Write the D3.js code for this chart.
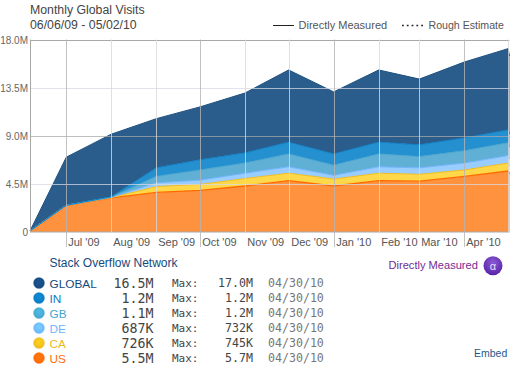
<!DOCTYPE html>
<html><head><meta charset="utf-8">
<script src="https://cdn.jsdelivr.net/npm/d3@7"></script>
<style>html,body{margin:0;padding:0;background:#fff}svg{display:block}</style>
</head><body><svg id="c" width="518" height="368"></svg>
<script>
const dates = ["2009-06-06","2009-07-01","2009-08-01","2009-09-01","2009-10-01","2009-11-01","2009-12-01","2010-01-01","2010-02-01","2010-03-01","2010-04-01","2010-05-01","2010-05-02"];
const usValues     = [0.1,2.5,3.2,3.7,3.9,4.3,4.8,4.3,4.8,4.75,5.2,5.7,5.45];
const caValues     = [0,0,0.02,0.55,0.55,0.7,0.7,0.65,0.7,0.65,0.6,0.745,0.726];
const deValues     = [0,0,0.02,0.35,0.4,0.5,0.6,0.35,0.6,0.6,0.65,0.70,0.687];
const gbValues     = [0,0,0.03,0.6,0.95,0.95,1.2,0.95,1.2,1.05,1.15,1.2,1.1];
const inValues     = [0,0,0.03,0.8,0.95,0.95,1.1,1.05,1.1,1.1,1.2,1.2,1.2];
const globalValues = [0,4.5,5.85,4.6,4.95,5.6,6.75,5.8,6.75,6.15,7.1,7.6,7.3];
const seriesKeys = ["US","CA","DE","GB","IN","GLOBAL"];
const fills   = {US:"#ff923e",CA:"#ffd84a",DE:"#99ccff",GB:"#60b0d6",IN:"#2490cf",GLOBAL:"#2a5d8b"};
const strokes = {US:"#ff6a00",CA:"#f0be20",DE:"#70b4fb",GB:"#4aa5cf",IN:"#0f80c6",GLOBAL:"#1d4f80"};
const yTicks = [0,4.5,9,13.5,18];
const yTickLabels = ["0","4.5M","9.0M","13.5M","18.0M"];
const monthDates = ["2009-07-01","2009-08-01","2009-09-01","2009-10-01","2009-11-01","2009-12-01","2010-01-01","2010-02-01","2010-03-01","2010-04-01","2010-05-01"];
const monthLabels = ["Jul '09","Aug '09","Sep '09","Oct '09","Nov '09","Dec '09","Jan '10","Feb '10","Mar '10","Apr '10",""];
const legendNames = ["GLOBAL","IN","GB","DE","CA","US"];
const legendColors = ["#174a80","#0c7cc0","#44a6cc","#6cb6ff","#eeb91c","#ff6a0a"];
const legendTextColors = ["#144a7c","#0c7cc0","#44a6cc","#6cb6ff","#eeb91c","#ff6a0a"];
const legendCurrent = ["16.5M","1.2M","1.1M","687K","726K","5.5M"];
const legendMax = ["17.0M","1.2M","1.2M","732K","745K","5.7M"];
const legendDate = ["04/30/10","04/30/10","04/30/10","04/30/10","04/30/10","04/30/10"];

const sans = "'Liberation Sans',Arial,sans-serif", mono = "'DejaVu Sans Mono',monospace";
const parse = d3.utcParse("%Y-%m-%d");
const svg = d3.select("#c");
const x = d3.scaleUtc().domain([parse(dates[0]), parse(dates[dates.length-1])]).range([30,509.5]);
const y = d3.scaleLinear().domain([0,18]).range([232,39.5]);
const vals = {US:usValues,CA:caValues,DE:deValues,GB:gbValues,IN:inValues,GLOBAL:globalValues};
const rows = dates.map((d,i)=>{const r={date:parse(d)};seriesKeys.forEach(k=>r[k]=vals[k][i]);return r;});
const stacked = d3.stack().keys(seriesKeys)(rows);

// defs
const defs = svg.append("defs");
legendColors.forEach((c,i)=>{
  const g=defs.append("radialGradient").attr("id","dot"+i).attr("cx","50%").attr("cy","40%").attr("r","60%");
  g.append("stop").attr("offset","0%").attr("stop-color",d3.color(c).brighter(0.35));
  g.append("stop").attr("offset","100%").attr("stop-color",c);
});
const ag=defs.append("radialGradient").attr("id","alpha").attr("cx","50%").attr("cy","35%").attr("r","65%");
ag.append("stop").attr("offset","0%").attr("stop-color","#8a5cd6");
ag.append("stop").attr("offset","100%").attr("stop-color","#5a22a8");

// areas
const area=d3.area().x(d=>x(d.data.date)).y0(d=>y(d[0])).y1(d=>y(d[1]));
const line=d3.line().x(d=>x(d.data.date)).y(d=>y(d[1]));
svg.append("g").selectAll("path").data(stacked).join("path")
  .attr("d",area).attr("fill",d=>fills[d.key]);
svg.append("g").selectAll("path").data(stacked).join("path")
  .attr("d",line).attr("fill","none").attr("stroke",d=>strokes[d.key]).attr("stroke-width",d=>d.key==="US"?1.3:1);

// grid
const grid=svg.append("g");
yTicks.forEach((t,i)=>{
  const yp=Math.round(y(t))+.5-(t===0?0.5:0);
  grid.append("line").attr("x1",30).attr("x2",509.5).attr("y1",yp).attr("y2",yp)
   .attr("stroke",(t===9||t===18||t===0)?"#a8a8a8":"#d8d8e4").attr("stroke-opacity",t===18||t===0?1:0.75);
});
monthDates.forEach((d,i)=>{
  const xp=Math.round(x(parse(d)))+.5;
  const major=(parse(d).getUTCMonth()%3===0);
  grid.append("line").attr("x1",xp).attr("x2",xp).attr("y1",39.5).attr("y2",major?247:232)
    .attr("stroke",major?"#b4b4b4":"#d8d8d8").attr("stroke-opacity",0.8);
  if(i===monthDates.length-1) return;
  svg.append("text").attr("x",xp+1.7).attr("y",245.5).attr("font-family",sans).attr("font-size",11)
    .attr("fill","#555").text(monthLabels[i]);
});
grid.append("line").attr("x1",30.5).attr("x2",30.5).attr("y1",39.5).attr("y2",232).attr("stroke","#a8a8a8");

// y labels
svg.append("g").selectAll("text").data(yTicks).join("text")
  .attr("x",28).attr("y",d=>y(d)+4).attr("text-anchor","end").attr("font-family",sans)
  .attr("font-size",10).attr("fill","#666").text((d,i)=>yTickLabels[i]);

// title
svg.append("text").attr("x",30).attr("y",14).attr("font-family",sans).attr("font-size",12.3).attr("fill","#444").text("Monthly Global Visits");
svg.append("text").attr("x",30).attr("y",29).attr("font-family",sans).attr("font-size",12.3).attr("fill","#444").text("06/06/09 - 05/02/10");

// top legend
svg.append("line").attr("x1",273).attr("x2",294).attr("y1",25.5).attr("y2",25.5).attr("stroke","#222").attr("stroke-width",1);
svg.append("text").attr("x",298.5).attr("y",29).attr("font-family",sans).attr("font-size",11).attr("fill","#555").text("Directly Measured");
svg.append("line").attr("x1",402).attr("x2",424).attr("y1",25.5).attr("y2",25.5).attr("stroke","#222").attr("stroke-width",1.6).attr("stroke-dasharray","1.8,3");
svg.append("text").attr("x",428.5).attr("y",29).attr("font-family",sans).attr("font-size",10.6).attr("fill","#555").text("Rough Estimate");

// bottom legend
svg.append("text").attr("x",49.5).attr("y",267).attr("font-family",sans).attr("font-size",12).attr("fill","#144a7c").text("Stack Overflow Network");
const ly=i=>283+15*i;
legendNames.forEach((n,i)=>{
  svg.append("circle").attr("cx",39).attr("cy",ly(i)).attr("r",5.5).attr("fill",`url(#dot${i})`).attr("stroke",legendColors[i]).attr("stroke-opacity",0.3).attr("stroke-width",1);
  svg.append("text").attr("x",49.5).attr("y",ly(i)+4.5).attr("font-family",sans).attr("font-size",11.8).attr("fill",legendTextColors[i]).text(n);
  svg.append("text").attr("x",153.5).attr("y",ly(i)+5).attr("text-anchor","end").attr("font-family",mono).attr("font-size",13.3).attr("fill","#444").text(legendCurrent[i]);
  svg.append("text").attr("x",172).attr("y",ly(i)+4).attr("font-family",mono).attr("font-size",11).attr("fill","#444").text("Max:");
  svg.append("text").attr("x",253).attr("y",ly(i)+4).attr("text-anchor","end").attr("font-family",mono).attr("font-size",11.6).attr("fill","#444").text(legendMax[i]);
  svg.append("text").attr("x",268).attr("y",ly(i)+4).attr("font-family",mono).attr("font-size",11.6).attr("fill","#777").text(legendDate[i]);
});

// directly measured badge
svg.append("text").attr("x",388.5).attr("y",269).attr("font-family",sans).attr("font-size",11.1).attr("fill","#742a96").text("Directly Measured");
svg.append("circle").attr("cx",493).attr("cy",265.7).attr("r",9.5).attr("fill","url(#alpha)");
svg.append("text").attr("x",493).attr("y",269.5).attr("text-anchor","middle").attr("font-family",sans).attr("font-size",11).attr("fill","#e8dcf8").text("α");
svg.append("text").attr("x",474).attr("y",357).attr("font-family",sans).attr("font-size",10.5).attr("fill","#1d5a8c").text("Embed");
</script></body></html>
